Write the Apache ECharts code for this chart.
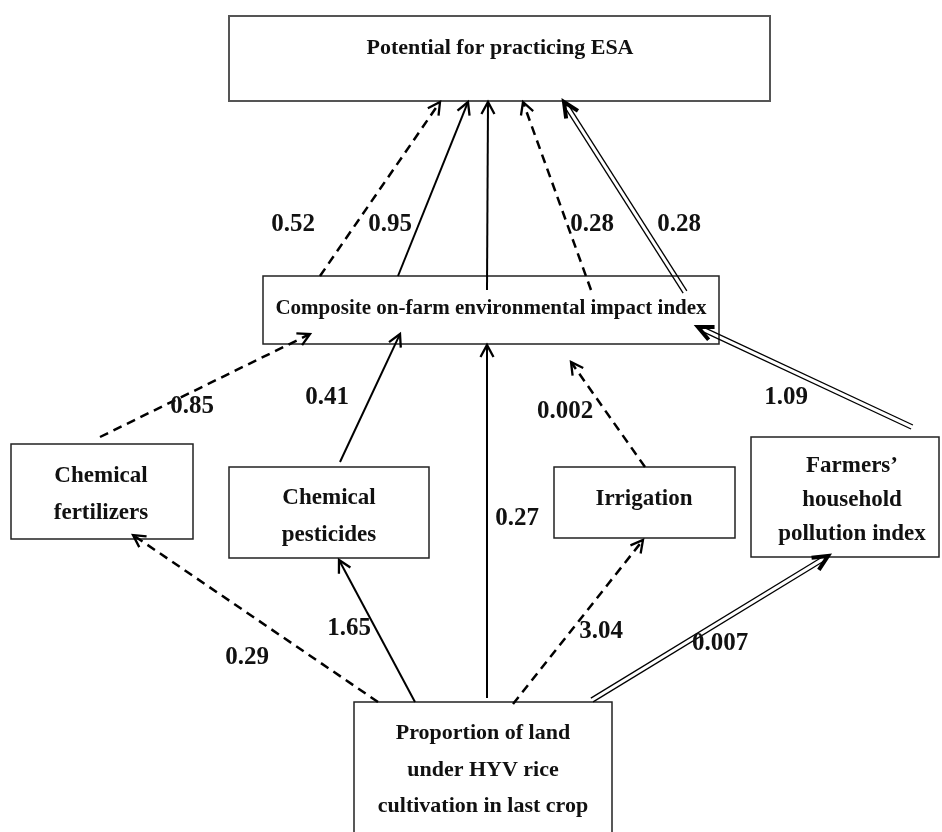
<html lang="en">
<head>
<meta charset="UTF-8">
<title>Path diagram</title>
<script src="https://cdn.jsdelivr.net/npm/echarts@6/dist/echarts.min.js"></script>
</head>
<body style="margin:0;background:#fff;">
<div id="container" style="width:942px;height:832px;"></div>
<script>
    // nodes of the path model
    var nodeIds = ['esa', 'cei', 'fert', 'pest', 'irr', 'farm', 'hyv'];
    var nodeLabels = [
        'Potential for practicing ESA',
        'Composite on-farm environmental impact index',
        'Chemical\nfertilizers',
        'Chemical\npesticides',
        'Irrigation',
        'Farmers\u2019\nhousehold\npollution index',
        'Proportion of land\nunder HYV rice\ncultivation in last crop'
    ];
    // paths: from, to, coefficient, line kind
    var edgeFrom = ['cei', 'cei', 'cei', 'cei', 'cei', 'fert', 'pest', 'hyv', 'irr', 'farm', 'hyv', 'hyv', 'hyv', 'hyv'];
    var edgeTo = ['esa', 'esa', 'esa', 'esa', 'esa', 'cei', 'cei', 'cei', 'cei', 'cei', 'fert', 'pest', 'irr', 'farm'];
    var coefs = ['0.52', '0.95', '', '0.28', '0.28', '0.85', '0.41', '0.27', '0.002', '1.09', '0.29', '1.65', '3.04', '0.007'];
    var edgeKind = ['dashed', 'solid', 'solid', 'dashed', 'double', 'dashed', 'solid', 'solid', 'dashed', 'double', 'dashed', 'solid', 'dashed', 'double'];

    // layout (diagram units, same as page pixels)
    var nodeBox = [
        [229, 16, 770, 101], [263, 276, 719, 344], [11, 444, 193, 539], [229, 467, 429, 558],
        [554, 467, 735, 538], [751, 437, 939, 557], [354, 702, 612, 845]
    ];
    var nodeText = [[500, 48], [491, 309], [101, 495], [329, 517], [644, 499], [852, 500], [483, 770]];
    var nodeFont = [22, 21, 23, 23, 23, 23, 22];
    var nodeLine = [30, 30, 37, 37, 37, 34, 36.5];
    var edgeStart = [[320, 276], [398, 276], [487, 290], [591, 290], [685, 292], [100, 437], [340, 462],
        [487, 698], [645, 467], [912, 427], [378, 702], [415, 702], [513, 704], [592, 700]];
    var edgeEnd = [[440, 102], [468, 102], [488, 102], [523, 102], [564, 102], [310, 334], [400, 334],
        [487, 345], [571, 362], [698, 327], [133, 535], [339, 560], [643, 540], [828, 556]];
    var labelAt = [[293, 225], [390, 225], [0, 0], [592, 225], [679, 225], [192, 407], [327, 398],
        [517, 519], [565, 412], [786, 398], [247, 658], [349, 629], [601, 632], [720, 644]];

    var serif = '"Liberation Serif", "DejaVu Serif", serif';

    var chart = echarts.init(document.getElementById('container'));

    function boxItem(params, api) {
        var i = params.dataIndex;
        var a = api.coord([api.value(0), api.value(1)]);
        var b = api.coord([api.value(2), api.value(3)]);
        var t = api.coord(nodeText[i]);
        return {
            type: 'group',
            children: [{
                type: 'rect',
                shape: {x: a[0], y: a[1], width: b[0] - a[0], height: b[1] - a[1]},
                style: {fill: '#fff', stroke: i === 0 ? '#555' : '#222', lineWidth: i === 0 ? 2 : 1.5}
            }, {
                type: 'text',
                style: {
                    text: nodeLabels[i], x: t[0], y: t[1], align: 'center', verticalAlign: 'middle',
                    fontFamily: serif, fontWeight: 'bold', fontSize: nodeFont[i], lineHeight: nodeLine[i], fill: '#111'
                }
            }]
        };
    }

    function arrowItem(params, api) {
        var i = params.dataIndex;
        var p0 = api.coord([api.value(0), api.value(1)]);
        var p1 = api.coord([api.value(2), api.value(3)]);
        var kind = edgeKind[i];
        var dx = p1[0] - p0[0], dy = p1[1] - p0[1];
        var len = Math.sqrt(dx * dx + dy * dy);
        var ux = dx / len, uy = dy / len, nx = -uy, ny = ux;
        var head = kind === 'double' ? 15 : 12;
        var spread = kind === 'double' ? 7 : 6.5;
        var bx = p1[0] - ux * head, by = p1[1] - uy * head;
        var headPts = [[bx + nx * spread, by + ny * spread], [p1[0], p1[1]], [bx - nx * spread, by - ny * spread]];
        var children = [];
        if (kind === 'double') {
            var ex = p1[0] - ux * 5, ey = p1[1] - uy * 5;
            [-2.2, 2.2].forEach(function (off) {
                children.push({
                    type: 'line',
                    shape: {x1: p0[0] + nx * off, y1: p0[1] + ny * off, x2: ex + nx * off, y2: ey + ny * off},
                    style: {stroke: '#000', lineWidth: 1.3}
                });
            });
            children.push({
                type: 'polyline', shape: {points: headPts},
                style: {stroke: '#000', lineWidth: 4, fill: 'none', lineJoin: 'miter'}
            });
        } else {
            children.push({
                type: 'line',
                shape: {x1: p0[0], y1: p0[1], x2: p1[0] - ux * 1.5, y2: p1[1] - uy * 1.5},
                style: {stroke: '#000', lineWidth: kind === 'dashed' ? 2.5 : 2, lineDash: kind === 'dashed' ? [9, 6] : null}
            });
            children.push({
                type: 'polyline', shape: {points: headPts},
                style: {stroke: '#000', lineWidth: 2.3, fill: 'none'}
            });
        }
        return {type: 'group', children: children};
    }

    function labelItem(params, api) {
        var i = params.dataIndex;
        var p = api.coord([api.value(0), api.value(1)]);
        return {
            type: 'text',
            style: {
                text: coefs[i], x: p[0], y: p[1], align: 'center', verticalAlign: 'middle',
                fontFamily: serif, fontWeight: 'bold', fontSize: 25, fill: '#111'
            }
        };
    }

    var option = {
        backgroundColor: '#ffffff',
        animation: false,
        grid: {left: 0, right: 0, top: 0, bottom: 0},
        xAxis: {type: 'value', min: 0, max: 942, show: false},
        yAxis: {type: 'value', min: 0, max: 832, inverse: true, show: false},
        series: [{
            type: 'custom', name: 'nodes', clip: false, z: 1,
            renderItem: boxItem,
            encode: {x: [0, 2], y: [1, 3]},
            data: nodeBox
        }, {
            type: 'custom', name: 'paths', clip: false, z: 2,
            renderItem: arrowItem,
            encode: {x: [0, 2], y: [1, 3]},
            data: edgeStart.map(function (s, i) { return [s[0], s[1], edgeEnd[i][0], edgeEnd[i][1]]; })
        }, {
            type: 'custom', name: 'coefficients', clip: false, z: 3,
            renderItem: labelItem,
            encode: {x: 0, y: 1},
            data: labelAt
        }]
    };
    chart.setOption(option);
</script>
</body>
</html>
